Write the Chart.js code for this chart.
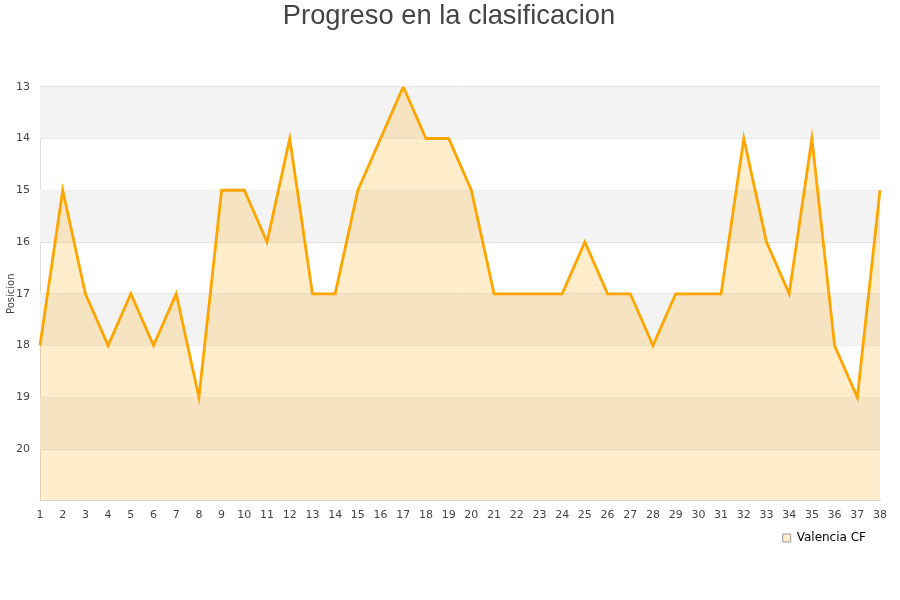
<!DOCTYPE html>
<html>
<head>
<meta charset="utf-8">
<script src="https://cdn.jsdelivr.net/npm/chart.js@4/dist/chart.umd.min.js"></script>
<style>
  html, body { margin: 0; padding: 0; background: #fff; }
  #wrap { width: 900px; height: 600px; }
</style>
</head>
<body>
<div id="wrap"><canvas id="chart" width="900" height="600"></canvas></div>
<script>
'use strict';

const jornadas = ['1','2','3','4','5','6','7','8','9','10','11','12','13','14','15','16','17','18','19',
  '20','21','22','23','24','25','26','27','28','29','30','31','32','33','34','35','36','37','38'];
const posiciones = [18, 15, 17, 18, 17, 18, 17, 19, 15, 15, 16, 14, 17, 17, 15, 14, 13, 14, 14,
  15, 17, 17, 17, 17, 16, 17, 17, 18, 17, 17, 17, 14, 16, 17, 14, 18, 19, 15];
const bandasGrises = [[13, 14], [15, 16], [17, 18], [19, 20]];

// franjas grises alternas detras de la serie
const bandsPlugin = {
  id: 'bands',
  beforeDatasetsDraw(chart) {
    const { ctx, chartArea, scales } = chart;
    ctx.save();
    ctx.fillStyle = '#f3f3f3';
    bandasGrises.forEach(b => {
      const y1 = scales.y.getPixelForValue(b[0]);
      const y2 = scales.y.getPixelForValue(b[1]);
      ctx.fillRect(chartArea.left, y1, chartArea.right - chartArea.left, y2 - y1);
    });
    ctx.restore();
  }
};

// ajustar leyenda y titulo despues del layout
const layoutShift = {
  id: 'layoutShift',
  afterLayout(chart) {
    const l = chart.legend;
    if (l) {
      l.top -= 4; l.bottom -= 4;
      l.left -= 8; l.right -= 8;
    }
    const t = chart.titleBlock;
    if (t) {
      t.left += 9; t.right += 9;
    }
  }
};

const canvasElem = document.getElementById('chart');

new Chart(canvasElem, {
  type: 'line',
  data: {
    labels: jornadas,
    datasets: [{
      label: 'Valencia CF',
      data: posiciones,
      borderColor: '#ffa500',
      borderWidth: 2.8,
      backgroundColor: 'rgba(255, 165, 0, 0.2)',
      fill: { value: 21 },
      pointRadius: 0,
      tension: 0
    }]
  },
  options: {
    responsive: false,
    animation: false,
    layout: { padding: { left: 0, right: 20, top: 0, bottom: 42 } },
    plugins: {
      title: {
        display: true,
        text: 'Progreso en la clasificacion',
        color: '#444',
        font: { family: 'Liberation Sans, Arial', size: 27.3, weight: 'normal' },
        padding: { top: 0, bottom: 54 }
      },
      legend: {
        position: 'bottom',
        align: 'end',
        labels: {
          color: '#222',
          font: { family: 'DejaVu Sans', size: 12 },
          boxWidth: 8,
          boxHeight: 8,
          padding: 6,
          generateLabels(chart) {
            return [{
              text: 'Valencia CF',
              fillStyle: 'rgba(255, 165, 0, 0.2)',
              strokeStyle: '#999',
              lineWidth: 1,
              datasetIndex: 0
            }];
          }
        }
      },
      tooltip: { enabled: false }
    },
    scales: {
      x: {
        offset: false,
        grid: { display: false, drawTicks: false },
        border: { color: '#ddd' },
        ticks: {
          autoSkip: false,
          maxRotation: 0,
          color: '#444',
          padding: 8,
          font: { family: 'DejaVu Sans', size: 11 }
        }
      },
      y: {
        reverse: true,
        min: 13,
        max: 21,
        afterFit(scale) { scale.width = 40; },
        grid: { color: '#e2e2e2', drawTicks: false },
        border: { color: '#ddd' },
        title: {
          display: true,
          text: 'Posicion',
          color: '#444',
          padding: { top: 5, bottom: 0 },
          font: { family: 'DejaVu Sans', size: 10 }
        },
        ticks: {
          stepSize: 1,
          color: '#444',
          padding: 10,
          font: { family: 'DejaVu Sans', size: 11 },
          callback: v => (v === 21 ? '' : v)
        }
      }
    }
  },
  plugins: [bandsPlugin, layoutShift]
});
</script>
</body>
</html>
